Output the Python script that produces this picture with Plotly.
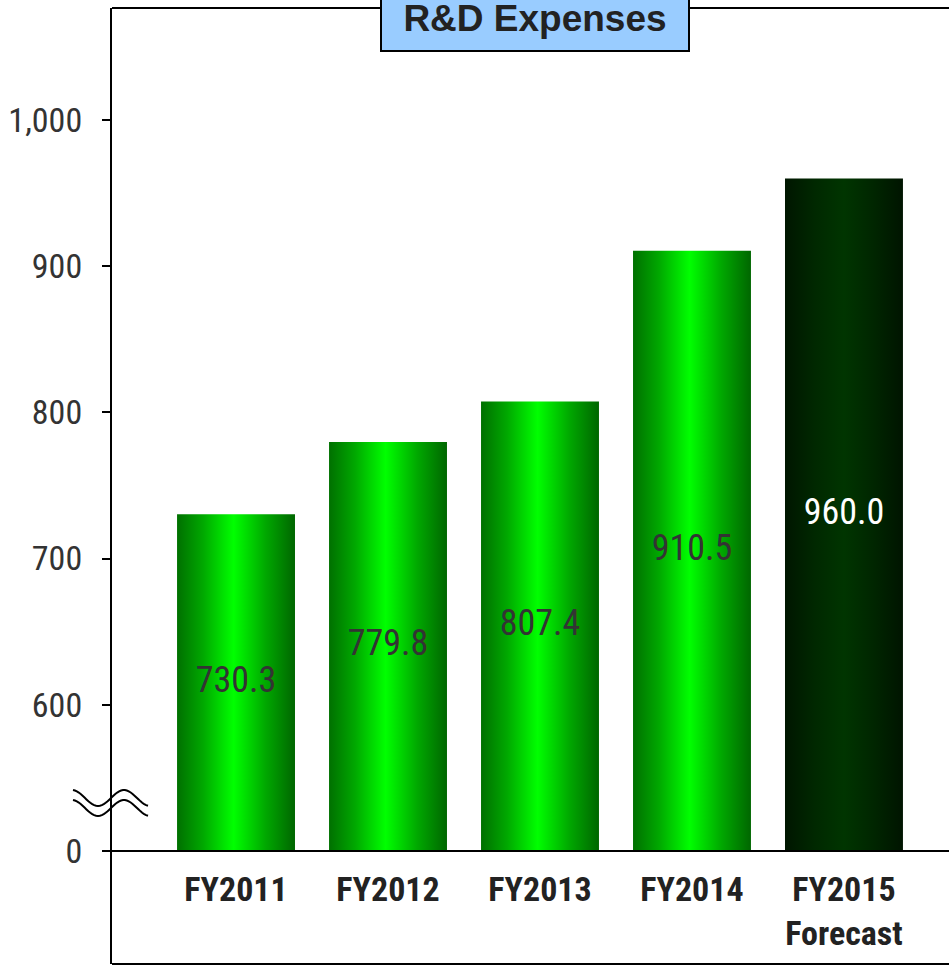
import numpy as np
import plotly.graph_objects as go

# ---- data ----
categories = ["FY2011", "FY2012", "FY2013", "FY2014", "FY2015<br>Forecast"]
values = [730.3, 779.8, 807.4, 910.5, 960.0]
value_labels = ["730.3", "779.8", "807.4", "910.5", "960.0"]
ytick_vals = [500, 600, 700, 800, 900, 1000]   # 500 is the broken-axis "0"
ytick_text = ["0", "600", "700", "800", "900", "1,000"]
title_text = "R&D Expenses"

# ---- styling ----
W, H = 949, 966
L, R, T, B = 112, 0, 8, 2
BASE = 500
Y_RANGE = [422.7, 1076.6]
X_RANGE = [-0.816, 4.691]
BAR_W = 0.776
NARROW = "Liberation Sans Narrow, Arial Narrow, Roboto Condensed, DejaVu Sans Condensed, sans-serif"
WIDE = "Liberation Sans, Arial, sans-serif"

green_scale = [[0.0, "#007000"], [0.22, "#00a800"], [0.48, "#00ff00"], [0.75, "#00a800"], [1.0, "#006600"]]
dark_scale = [[0.0, "#001600"], [0.25, "#002800"], [0.5, "#003500"], [0.75, "#002600"], [1.0, "#001400"]]

fig = go.Figure()

xs = list(range(len(categories)))
for i, v in enumerate(values):
    x0, x1 = xs[i] - BAR_W / 2, xs[i] + BAR_W / 2
    scale = dark_scale if i == len(values) - 1 else green_scale
    fig.add_trace(go.Scatter(
        x=[x0, x1, x1, x0, x0], y=[BASE, BASE, v, v, BASE],
        mode="lines", fill="toself", line=dict(width=0),
        fillgradient=dict(type="horizontal", colorscale=scale),
        hoverinfo="skip", showlegend=False,
    ))

# value labels centred in the bars
text_colors = ["#333333"] * (len(values) - 1) + ["#ffffff"]
fig.add_trace(go.Scatter(
    x=xs, y=[(BASE + v) / 2 for v in values], mode="text",
    text=value_labels, textposition="middle center",
    textfont=dict(family=NARROW, size=36, color=text_colors),
    hoverinfo="skip", showlegend=False, cliponaxis=False,
))

plot_h = H - T - B
fig.update_layout(
    width=W, height=H,
    margin=dict(l=L, r=R, t=T, b=B, pad=0),
    paper_bgcolor="white", plot_bgcolor="white",
    showlegend=False,
    xaxis=dict(
        range=X_RANGE, tickmode="array", tickvals=xs, ticktext=categories,
        showgrid=False, zeroline=False, showline=True, linecolor="black", linewidth=2,
        anchor="free", position=(BASE - Y_RANGE[0]) / (Y_RANGE[1] - Y_RANGE[0]),
        ticks="", ticklabelstandoff=8,
        tickfont=dict(family=NARROW, size=34, color="#222222", weight="bold"),
        fixedrange=True,
    ),
    yaxis=dict(
        range=Y_RANGE, tickmode="array", tickvals=ytick_vals, ticktext=ytick_text,
        showgrid=False, zeroline=False, showline=True, linecolor="black", linewidth=2,
        ticks="outside", ticklen=8, tickwidth=2, tickcolor="black",
        ticklabelstandoff=13,
        tickfont=dict(family=NARROW, size=34, color="#333333"),
        fixedrange=True,
    ),
)

# frame: top and bottom lines (left line is the y axis)
for yp in (0, 1):
    fig.add_shape(type="line", xref="paper", yref="paper", x0=0, x1=1, y0=yp, y1=yp,
                  line=dict(color="black", width=2))

# axis-break symbol (two waves crossing the y axis)
def px2paper_x(px):
    return (px - L) / (W - L - R)

def px2paper_y(py):
    return (H - B - py) / plot_h

for off in (0, 10):
    xx = np.linspace(73, 148, 40)
    yy = 798 + off + 8 * np.sin(2 * np.pi * (xx - 85) / 52)
    path = "M " + " L ".join(f"{px2paper_x(a):.5f},{px2paper_y(b):.5f}" for a, b in zip(xx, yy))
    fig.add_shape(type="path", xref="paper", yref="paper", path=path,
                  line=dict(color="black", width=2))

# title box
fig.add_annotation(
    xref="paper", yref="paper", x=px2paper_x(535), y=px2paper_y(52),
    xanchor="center", yanchor="bottom", showarrow=False,
    text=title_text, font=dict(family=WIDE, size=37, color="#222222", weight="bold"),
    bgcolor="#99ccff", bordercolor="black", borderwidth=2, borderpad=0,
    width=306, height=64, valign="middle",
)

fig.write_html("out.html")
